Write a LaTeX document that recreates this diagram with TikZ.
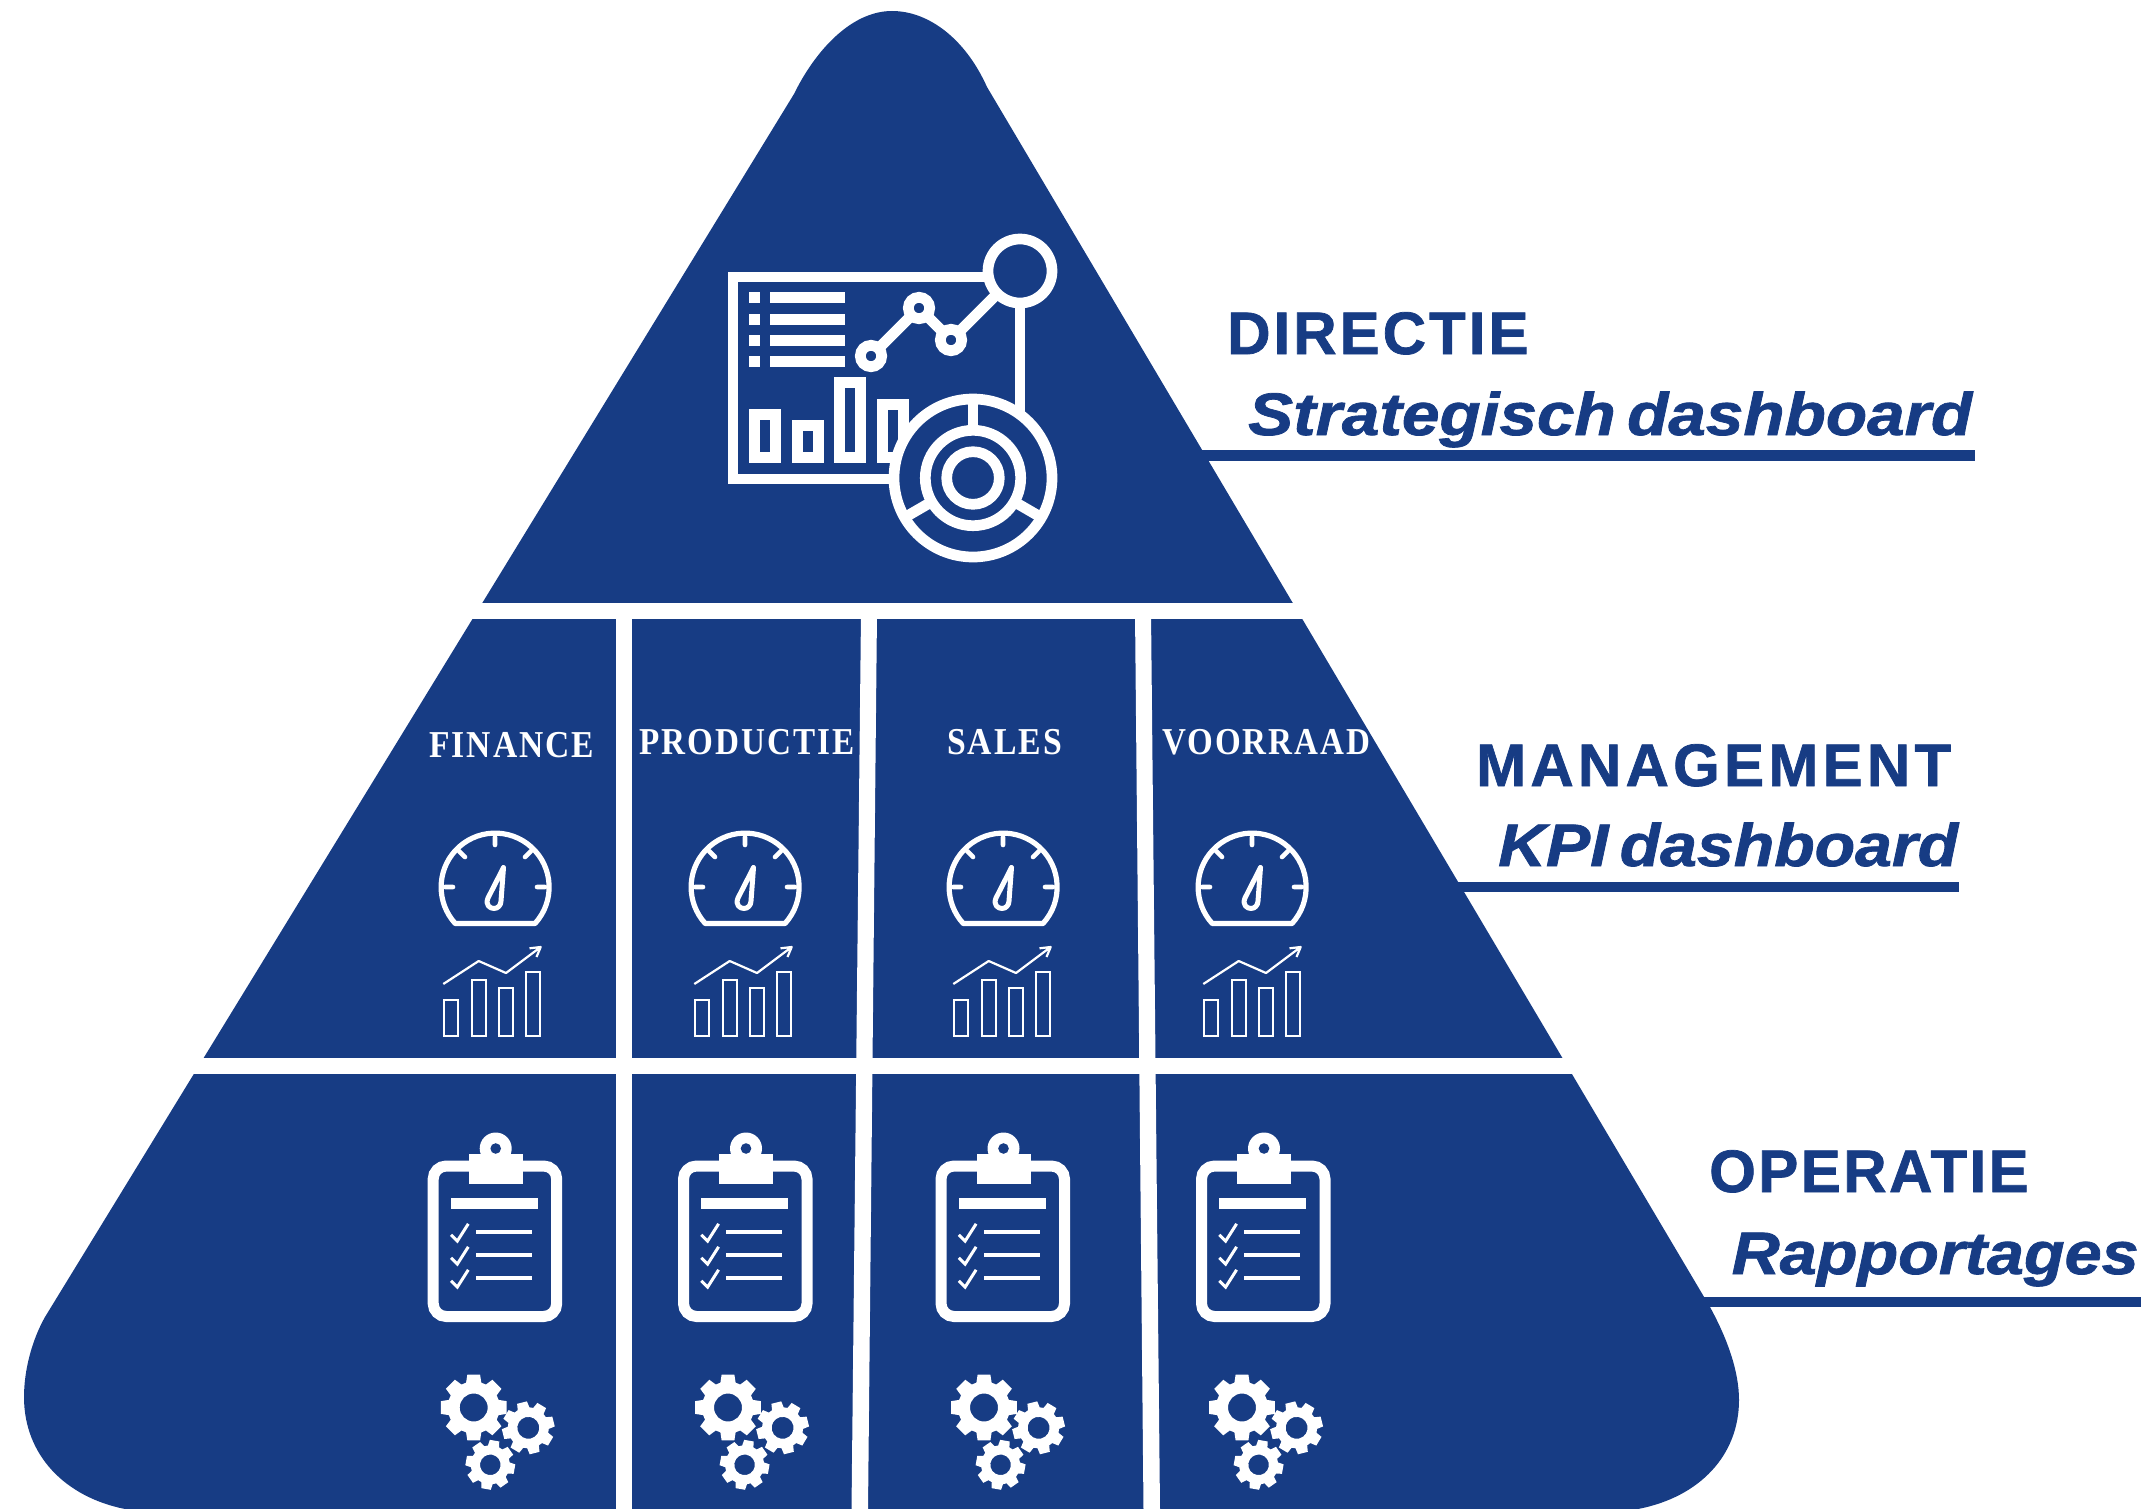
\documentclass[tikz,border=0pt]{standalone}
\usepackage{fontspec}
\newfontfamily\labelfont{Liberation Sans}[FakeBold=1.2]
\newfontfamily\colfont{Liberation Serif}[LetterSpace=6]
\newsavebox{\fitbox}
\newcommand{\fitw}[2]{\sbox{\fitbox}{\spaceskip=0.17em plus 0pt\relax #2}\pgfmathsetmacro{\fitsx}{#1/\wd\fitbox}\scalebox{\fitsx}[1]{\usebox{\fitbox}}}
\definecolor{pyrblue}{HTML}{173C84}
\newcommand{\gearpart}[6]{%
  \begin{scope}[shift={(#1,#2)},rotate=#6]
    \fill[white,even odd rule] (-17:#4)
      \foreach \a in {0,45,...,315} { -- (\a-17:#4) -- (\a-11:#3) -- (\a+11:#3) -- (\a+17:#4) }
      -- cycle (0,0) circle (#5);
  \end{scope}}
\tikzset{
  x=1pt, y=-1pt,
  headlabel/.style={anchor=base west,inner sep=0pt,text=pyrblue,font=\labelfont\bfseries\fontsize{60}{60}\selectfont},
  sublabel/.style={anchor=base west,inner sep=0pt,text=pyrblue,font=\labelfont\bfseries\itshape\fontsize{60}{60}\selectfont},
  collabel/.style={anchor=base west,inner sep=0pt,text=white,font=\colfont\bfseries\fontsize{38}{38}\selectfont},
  icon/.style={draw=white,line width=10.7pt},
  pics/dial/.style={code={
    \draw[white,line width=5.2pt,line join=round] (40,36.5) arc[start angle=42.4,end angle=-222.4,radius=54] -- cycle;
    \draw[white,line width=4.6pt,line cap=round]
      (0,-50)--(0,-42) (-50,0)--(-42,0) (50,0)--(42,0)
      (-36,-36)--(-30,-30) (36,-36)--(30,-30);
    \draw[white,line width=5pt,line join=round] (8.5,-19.5) -- (-7,11) .. controls (-10,18) and (-5,21.5) .. (-1,21.5) .. controls (3,21.5) and (6,18) .. (6,14) -- cycle;
  }},
  pics/kpichart/.style={code={
    \draw[white,line width=2.2pt]
      (-50.7,114.3) rectangle (-36.7,150.3)
      (-23.3,94) rectangle (-9.3,150.3)
      (3.7,101.7) rectangle (18.3,150.3)
      (31.3,85.7) rectangle (45.3,150.3);
    \draw[white,line width=2.2pt,line join=round]
      (-51.7,98) -- (-16.3,75) -- (11,87) -- (45.7,61)
      (34.5,62.3) -- (45.7,61) -- (41.5,71);
  }},
  pics/clipboard/.style={code={
    \draw[white,line width=11pt,rounded corners=13pt] (-62.5,17.5) rectangle (61,168);
    \fill[white] (0,0) circle (16);
    \fill[pyrblue] (0,0) circle (5.3);
    \fill[white] (-26.7,5.3) rectangle (27.3,35.3);
    \fill[white] (-44.7,49.3) rectangle (42.3,60.3);
    \foreach \dy in {0,23,46} {
      \fill[white] (-19.7,81+\dy) rectangle (36.3,85.3+\dy);
      \draw[white,line width=3pt] (-44.7,86.3+\dy) -- (-38.4,92.6+\dy) -- (-27.4,75.3+\dy);
    }
  }},
  pics/gears/.style={code={
    \gearpart{0}{0}{33.5}{26}{14}{0}
    \gearpart{54.6}{20.3}{26.5}{20.5}{11}{14}
    \gearpart{16.6}{57.3}{25}{19.5}{10.3}{-10}
  }},
}
\begin{document}
\begin{tikzpicture}
\useasboundingbox (0,0) rectangle (2154,1509);
\begin{scope}
\clip (0,0) rectangle (2154,1509);
% pyramid silhouette
\fill[pyrblue] (794,94)
  .. controls (814,53) and (850,11) .. (892,11)
  .. controls (928,11) and (965,38) .. (987,87)
  -- (1710,1307)
  .. controls (1728,1340) and (1739,1372) .. (1739,1400)
  .. controls (1739,1455) and (1700,1497) .. (1638,1509)
  -- (1620,1515) -- (140,1515) -- (125,1509)
  .. controls (65,1497) and (24,1455) .. (24,1397)
  .. controls (24,1370) and (32,1340) .. (45,1317)
  -- cycle;
% white dividing bands
\fill[white] (300,603) rectangle (1500,619);
\fill[white] (100,1058) rectangle (1700,1074);
\fill[white] (616,612) rectangle (632,1510);
\fill[white] (861,612) -- (877,612) -- (868,1510) -- (851.5,1510) -- cycle;
\fill[white] (1135,612) -- (1151,612) -- (1160,1510) -- (1143.5,1510) -- cycle;
\end{scope}
% label rules
\fill[pyrblue] (1195,450) rectangle (1975,461);
\fill[pyrblue] (1450,882) rectangle (1959,892);
\fill[pyrblue] (1698,1297) rectangle (2141,1307);
% right hand labels
\node[headlabel] (directie) at (1227,354) {\addfontfeature{LetterSpace=5.1}DIRECTIE};
\node[sublabel] (strategisch) at (1248,435) {\fitw{724}{Strategisch dashboard}};
\node[headlabel] (management) at (1476,786) {\addfontfeature{LetterSpace=7.1}MANAGEMENT};
\node[sublabel] (kpi) at (1498,866) {\fitw{460}{KPI dashboard}};
\node[headlabel] (operatie) at (1709,1192) {\addfontfeature{LetterSpace=4.1}OPERATIE};
\node[sublabel] (rapportages) at (1731.5,1274) {\fitw{407}{Rapportages}};
% column labels
\node[collabel] (finance) at (429,757) {\fitw{165}{FINANCE}};
\node[collabel] (productie) at (639,754) {\fitw{215}{PRODUCTIE}};
\node[collabel] (sales) at (947,754) {\fitw{115}{SALES}};
\node[collabel] (voorraad) at (1162,754) {\fitw{208}{VOORRAAD}};
% strategic dashboard icon
\draw[icon] (1000,277) -- (733,277) -- (733,479) -- (900,479);
\foreach \y in {292,314,335,356} {
  \fill[white] (749,\y) rectangle (760,\y+11);
  \fill[white] (770,\y) rectangle (845,\y+11);
}
\draw[icon] (754.3,414.7) rectangle (775.7,457.7);
\draw[icon] (797.3,425.3) rectangle (818.7,457.7);
\draw[icon] (839.3,382.3) rectangle (860.7,457.7);
\draw[icon] (882.3,404.3) rectangle (903.7,457.7);
\draw[icon] (1020,300) -- (1020,420);
\draw[icon] (871,356) -- (919,308) -- (951,340) -- (1020,271);
\foreach \p in {(871,356),(919,308),(951,340)} {
  \draw[icon,fill=pyrblue] \p circle (10.7);
}
\draw[icon,fill=pyrblue] (1020,271) circle (32);
\draw[icon,fill=pyrblue] (973,478) circle (79);
\draw[icon] (973,399) -- (973,430);
\draw[icon] (904.6,517.5) -- (931.7,501.8);
\draw[icon] (1041.4,517.5) -- (1014.3,501.8);
\draw[icon,fill=pyrblue] (973,478) circle (47.7);
\draw[icon] (973,478) circle (26.3);
% KPI icons
\foreach \dx/\cx in {495/495,745/746,1003/1005,1252/1255} {
  \pic at (\dx,887) {dial};
  \pic at (\cx,886) {kpichart};
}
% clipboards
\foreach \dx in {495.7,746,1003.5,1264} {
  \pic at (\dx,1148.5) {clipboard};
}
% gears
\foreach \dx in {473.7,728,984,1242} {
  \pic at (\dx,1407.5) {gears};
}
\end{tikzpicture}
\end{document}
